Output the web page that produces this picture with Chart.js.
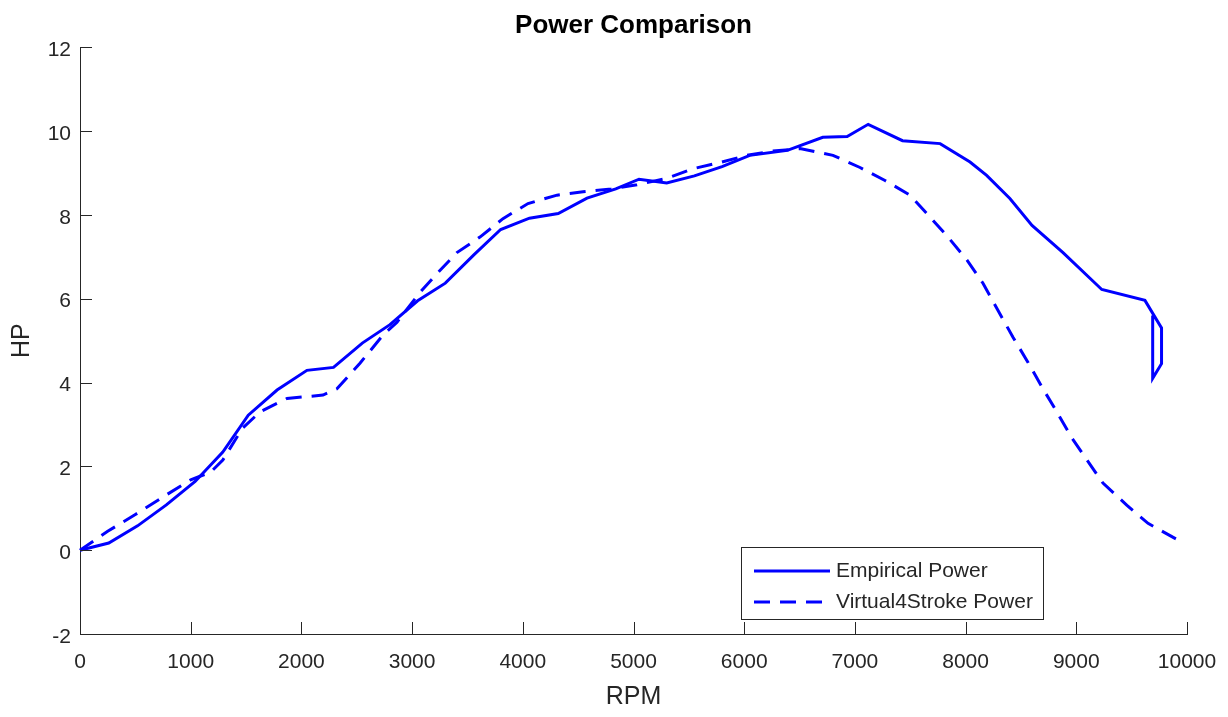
<!DOCTYPE html>
<html>
<head>
<meta charset="utf-8">
<title>Power Comparison</title>
<script src="https://cdn.jsdelivr.net/npm/chart.js@4.4.1/dist/chart.umd.min.js"></script>
<style>
  html, body { margin: 0; padding: 0; background: #fff; }
  #wrap { width: 1228px; height: 717px; }
</style>
</head>
<body>
<div id="wrap"><canvas id="canvasPower"></canvas></div>
<script>
// dyno run (measured)
const rpmEmpirical = [0, 260, 520, 780, 1040, 1290, 1520, 1780, 2050, 2290, 2550, 2800, 3050, 3300,
    3560, 3800, 4060, 4320, 4580, 4840, 5050, 5300, 5550, 5800, 6050, 6390, 6710, 6930, 7120,
    7430, 7770, 8040, 8190, 8400, 8600, 8880, 9230, 9620, 9770, 9770, 9690, 9690];
const hpEmpirical = [0, 0.17, 0.58, 1.08, 1.64, 2.34, 3.22, 3.82, 4.29, 4.36, 4.94, 5.38, 5.95, 6.37,
    7.05, 7.65, 7.92, 8.03, 8.40, 8.62, 8.85, 8.76, 8.93, 9.15, 9.42, 9.54, 9.85, 9.87, 10.16,
    9.77, 9.70, 9.26, 8.94, 8.39, 7.75, 7.10, 6.22, 5.96, 5.30, 4.45, 4.10, 5.60];

// simulation output
const rpmVirtual = [0, 250, 500, 750, 1000, 1180, 1290, 1465, 1626, 1870, 2195, 2321, 2529, 2737,
    2864, 3071, 3225, 3405, 3613, 3821, 4047, 4309, 4544, 4800, 5032, 5302, 5537, 5799, 6025,
    6250, 6504, 6802, 7046, 7272, 7498, 7678, 7841, 8013, 8157, 8293, 8428, 8564, 8690, 8826,
    8961, 9097, 9241, 9458, 9648, 9919];
const hpVirtual = [0, 0.45, 0.85, 1.27, 1.68, 1.86, 2.15, 2.90, 3.30, 3.62, 3.70, 3.85, 4.46, 5.13,
    5.44, 6.15, 6.60, 7.10, 7.47, 7.91, 8.27, 8.47, 8.55, 8.62, 8.72, 8.87, 9.10, 9.26, 9.42,
    9.52, 9.58, 9.42, 9.13, 8.82, 8.47, 7.95, 7.47, 6.92, 6.37, 5.72, 5.08, 4.48, 3.89, 3.29,
    2.67, 2.15, 1.60, 1.07, 0.64, 0.24];

const rpmTicks = [0, 1000, 2000, 3000, 4000, 5000, 6000, 7000, 8000, 9000, 10000];
const hpTicks = [-2, 0, 2, 4, 6, 8, 10, 12];

const axisColor = '#262626';
const fontFamily = "'Liberation Sans', Arial, Helvetica, sans-serif";

const toPoints = (xs, ys) => xs.map((x, i) => ({ x: x, y: ys[i] }));

// tick marks point into the plot area
const inwardTicks = {
    id: 'inwardTicks',
    afterDatasetsDraw(chart) {
        const { ctx, chartArea, scales } = chart;
        const len = 12;
        ctx.save();
        ctx.strokeStyle = axisColor;
        ctx.lineWidth = 1;
        ctx.beginPath();
        scales.x.ticks.forEach(t => {
            const px = Math.round(scales.x.getPixelForValue(t.value)) + 0.5;
            ctx.moveTo(px, chartArea.bottom);
            ctx.lineTo(px, chartArea.bottom - len);
        });
        scales.y.ticks.forEach(t => {
            const py = Math.round(scales.y.getPixelForValue(t.value)) + 0.5;
            ctx.moveTo(chartArea.left, py);
            ctx.lineTo(chartArea.left + len, py);
        });
        ctx.stroke();
        ctx.restore();
    }
};

// boxed legend in the lower right of the plot
const legendBox = {
    id: 'legendBox',
    afterDraw(chart) {
        const { ctx, chartArea } = chart;
        const w = 302, h = 72;
        const x = chartArea.right - 446;
        const y = chartArea.bottom - 87;
        ctx.save();
        ctx.fillStyle = '#fff';
        ctx.fillRect(x, y, w, h);
        ctx.strokeStyle = axisColor;
        ctx.lineWidth = 1;
        ctx.strokeRect(x + 0.5, y + 0.5, w, h);
        ctx.font = '21px ' + fontFamily;
        ctx.textBaseline = 'middle';
        chart.data.datasets.forEach((ds, i) => {
            const cy = y + 24 + i * 31;
            ctx.strokeStyle = ds.borderColor;
            ctx.lineWidth = ds.borderWidth;
            ctx.setLineDash(ds.borderDash || []);
            ctx.beginPath();
            ctx.moveTo(x + 13, cy);
            ctx.lineTo(x + 89, cy);
            ctx.stroke();
            ctx.setLineDash([]);
            ctx.fillStyle = axisColor;
            ctx.fillText(ds.label, x + 95, cy);
        });
        ctx.restore();
    }
};

const ctxPower = document.getElementById('canvasPower').getContext('2d');
const chartPower = new Chart(ctxPower, {
    type: 'scatter',
    data: {
        datasets: [
            {
                label: 'Empirical Power',
                data: toPoints(rpmEmpirical, hpEmpirical),
                showLine: true,
                borderColor: '#0000ff',
                borderWidth: 3,
                pointRadius: 0,
                tension: 0,
                clip: false
            },
            {
                label: 'Virtual4Stroke Power',
                data: toPoints(rpmVirtual, hpVirtual),
                showLine: true,
                borderColor: '#0000ff',
                borderWidth: 3,
                borderDash: [16, 10],
                pointRadius: 0,
                tension: 0,
                clip: false
            }
        ]
    },
    options: {
        responsive: true,
        maintainAspectRatio: false,
        animation: false,
        events: [],
        layout: { padding: { right: 41 } },
        scales: {
            x: {
                type: 'linear',
                min: 0,
                max: 10000,
                afterBuildTicks: s => { s.ticks = rpmTicks.map(v => ({ value: v })); },
                afterFit: s => {
                    s.height = 83;
                    s.paddingLeft = 0;
                    s.paddingRight = 0;
                },
                grid: { display: false, drawTicks: false },
                border: { display: true, color: axisColor, width: 1 },
                ticks: {
                    padding: 16,
                    color: axisColor,
                    maxRotation: 0,
                    font: { family: fontFamily, size: 21 },
                    callback: v => String(v)
                },
                title: {
                    display: true,
                    text: 'RPM',
                    color: axisColor,
                    font: { family: fontFamily, size: 25 },
                    padding: { top: 5, bottom: 5 }
                }
            },
            y: {
                type: 'linear',
                min: -2,
                max: 12,
                afterBuildTicks: s => { s.ticks = hpTicks.map(v => ({ value: v })); },
                afterFit: s => { s.width = 80; },
                grid: { display: false, drawTicks: false },
                border: { display: true, color: axisColor, width: 1 },
                ticks: {
                    padding: 9,
                    labelOffset: 3,
                    color: axisColor,
                    font: { family: fontFamily, size: 21 },
                    callback: v => String(v)
                },
                title: {
                    display: true,
                    text: 'HP',
                    color: axisColor,
                    font: { family: fontFamily, size: 25 },
                    padding: { top: 7, bottom: 7 }
                }
            }
        },
        plugins: {
            legend: { display: false },
            tooltip: { enabled: false },
            title: {
                display: true,
                fullSize: false,
                text: 'Power Comparison',
                color: '#000',
                font: { family: fontFamily, size: 26, weight: 'bold' },
                padding: { top: 10, bottom: 6 }
            }
        }
    },
    plugins: [inwardTicks, legendBox]
});
</script>
</body>
</html>
